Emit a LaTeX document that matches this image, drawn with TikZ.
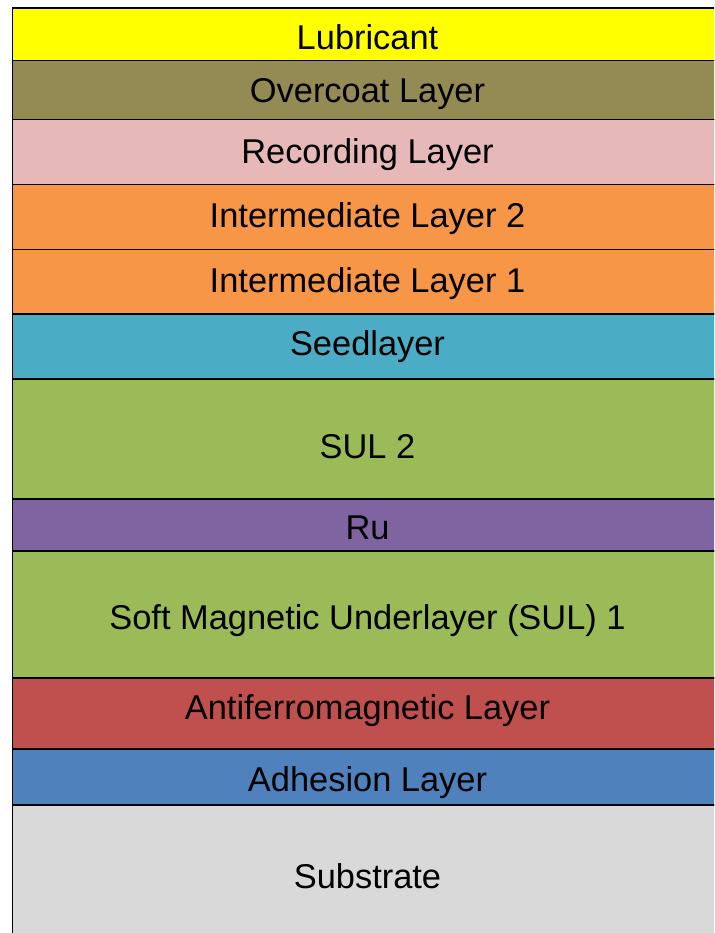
\documentclass[tikz,border=0pt]{standalone}
\usepackage{fontspec}
\setmainfont{Liberation Sans}
\definecolor{lubc}{HTML}{FFFF00}
\definecolor{overc}{HTML}{948A54}
\definecolor{recc}{HTML}{E6B9B8}
\definecolor{intc}{HTML}{F79646}
\definecolor{seedc}{HTML}{4BACC6}
\definecolor{sulc}{HTML}{9BBB59}
\definecolor{ruc}{HTML}{8064A2}
\definecolor{afmc}{HTML}{C0504D}
\definecolor{adhc}{HTML}{4F81BD}
\definecolor{subc}{HTML}{D9D9D9}
\tikzset{
  layer/.style={draw=black, line width=1.5pt, inner sep=0pt, anchor=north west,
    minimum width=740pt},
  lbl/.style={anchor=base, inner sep=0pt, font=\fontsize{34.4}{40}\selectfont, text=black},
}
\begin{document}
\begin{tikzpicture}[x=1pt,y=-1pt]
\useasboundingbox (0,0) rectangle (714,933);
\clip (0,0) rectangle (714,933);
\node[layer, fill=subc, minimum height=140pt] (sub) at (11.5,804) {};
\node[layer, fill=adhc, minimum height=56pt] (adh) at (11.5,748) {};
\node[layer, fill=afmc, minimum height=71pt] (afm) at (11.5,677) {};
\node[layer, fill=sulc, minimum height=127pt] (sul1) at (11.5,550) {};
\node[layer, fill=ruc, minimum height=52pt] (ru) at (11.5,498) {};
\node[layer, fill=sulc, minimum height=120pt] (sul2) at (11.5,378) {};
\node[layer, fill=seedc, minimum height=65pt] (seed) at (11.5,313) {};
\node[layer, fill=intc, minimum height=64.5pt] (int1) at (11.5,248.5) {};
\node[layer, fill=intc, minimum height=64.5pt] (int2) at (11.5,184) {};
\node[layer, fill=recc, minimum height=65pt] (rec) at (11.5,119) {};
\node[layer, fill=overc, minimum height=59pt] (over) at (11.5,60) {};
\node[layer, fill=lubc, minimum height=52.5pt] (lub) at (11.5,7.5) {};
\node[lbl] (lubt) at (367.5,50) {Lubricant};
\node[lbl] (overt) at (367.5,103) {Overcoat Layer};
\node[lbl] (rect) at (367.5,163.2) {Recording Layer};
\node[lbl] (int2t) at (367.5,227) {Intermediate Layer 2};
\node[lbl] (int1t) at (367.5,292) {Intermediate Layer 1};
\node[lbl] (seedt) at (367.5,355.5) {Seedlayer};
\node[lbl] (sul2t) at (367.5,458) {SUL 2};
\node[lbl] (rut) at (367.5,539.5) {Ru};
\node[lbl] (sul1t) at (367.5,629) {Soft Magnetic Underlayer (SUL) 1};
\node[lbl] (afmt) at (367.5,719.5) {Antiferromagnetic Layer};
\node[lbl] (adht) at (367.5,791.6) {Adhesion Layer};
\node[lbl] (subt) at (367.5,888.2) {Substrate};
\end{tikzpicture}
\end{document}
